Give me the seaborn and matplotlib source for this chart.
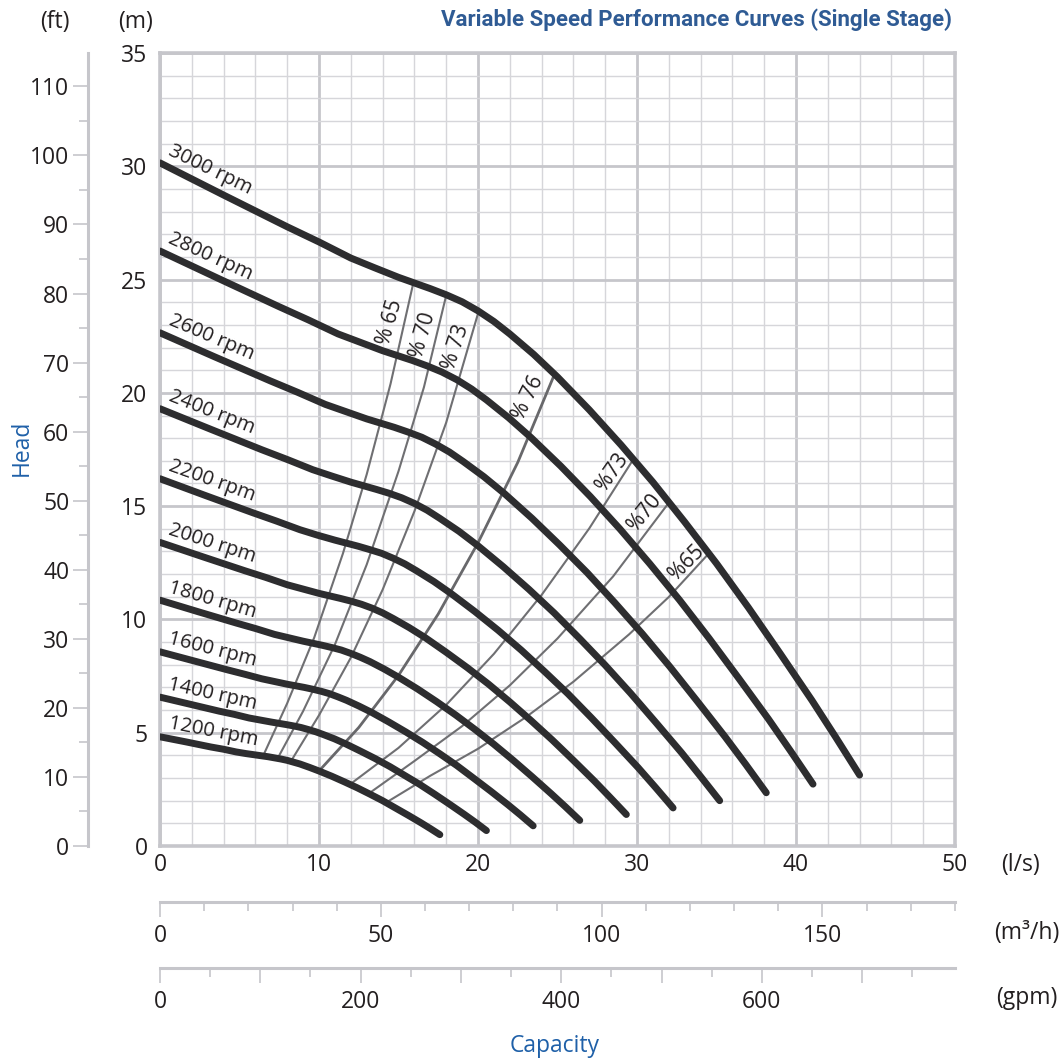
import matplotlib
matplotlib.use("Agg")
import matplotlib.pyplot as plt
import matplotlib.ticker as mticker
from matplotlib import transforms
import pandas as pd
import seaborn as sns

# ---- pump curves: flow (l/s) and head (m) per speed ----
speeds = [3000, 2800, 2600, 2400, 2200, 2000, 1800, 1600, 1400, 1200]

q_3000 = [0, 4, 8, 10, 12, 13.5, 15, 17, 18, 19, 20, 21, 22, 23.5, 25, 27, 29, 31, 33, 35, 37, 39,
          41, 42.5, 44]
h_3000 = [30.15, 28.73, 27.33, 26.66, 25.95, 25.52, 25.1, 24.6, 24.33, 24.02, 23.62, 23.15, 22.6,
          21.7, 20.7, 19.25, 17.7, 16.06, 14.3, 12.47, 10.53, 8.5, 6.43, 4.8, 3.13]
q_2800 = [0, 3.73, 7.47, 9.33, 11.2, 12.6, 14.0, 15.87, 16.8, 17.73, 18.67, 19.6, 20.53, 21.93,
          23.33, 25.2, 27.07, 28.93, 30.8, 32.67, 34.53, 36.4, 38.27, 39.67, 41.07]
h_2800 = [26.26, 25.03, 23.81, 23.22, 22.6, 22.23, 21.86, 21.43, 21.19, 20.92, 20.58, 20.17, 19.69,
          18.9, 18.03, 16.77, 15.42, 13.99, 12.46, 10.86, 9.17, 7.4, 5.6, 4.18, 2.73]
q_2600 = [0, 3.47, 6.93, 8.67, 10.4, 11.7, 13.0, 14.73, 15.6, 16.47, 17.33, 18.2, 19.07, 20.37,
          21.67, 23.4, 25.13, 26.87, 28.6, 30.33, 32.07, 33.8, 35.53, 36.83, 38.13]
h_2600 = [22.65, 21.58, 20.53, 20.02, 19.49, 19.17, 18.85, 18.48, 18.27, 18.04, 17.74, 17.39, 16.97,
          16.3, 15.55, 14.46, 13.29, 12.06, 10.74, 9.37, 7.91, 6.38, 4.83, 3.61, 2.35]
q_2400 = [0, 3.2, 6.4, 8.0, 9.6, 10.8, 12.0, 13.6, 14.4, 15.2, 16.0, 16.8, 17.6, 18.8, 20.0, 21.6,
          23.2, 24.8, 26.4, 28.0, 29.6, 31.2, 32.8, 34.0, 35.2]
h_2400 = [19.3, 18.39, 17.49, 17.06, 16.61, 16.33, 16.06, 15.74, 15.57, 15.37, 15.12, 14.82, 14.46,
          13.89, 13.25, 12.32, 11.33, 10.28, 9.15, 7.98, 6.74, 5.44, 4.12, 3.07, 2.0]
q_2200 = [0, 2.93, 5.87, 7.33, 8.8, 9.9, 11.0, 12.47, 13.2, 13.93, 14.67, 15.4, 16.13, 17.23,
          18.33, 19.8, 21.27, 22.73, 24.2, 25.67, 27.13, 28.6, 30.07, 31.17, 32.27]
h_2200 = [16.21, 15.45, 14.7, 14.34, 13.96, 13.72, 13.5, 13.23, 13.08, 12.92, 12.7, 12.45, 12.15,
          11.67, 11.13, 10.35, 9.52, 8.64, 7.69, 6.71, 5.66, 4.57, 3.46, 2.58, 1.68]
q_2000 = [0, 2.67, 5.33, 6.67, 8.0, 9.0, 10.0, 11.33, 12.0, 12.67, 13.33, 14.0, 14.67, 15.67,
          16.67, 18.0, 19.33, 20.67, 22.0, 23.33, 24.67, 26.0, 27.33, 28.33, 29.33]
h_2000 = [13.4, 12.77, 12.15, 11.85, 11.53, 11.34, 11.15, 10.93, 10.81, 10.67, 10.5, 10.29, 10.04,
          9.64, 9.2, 8.55, 7.87, 7.14, 6.36, 5.54, 4.68, 3.78, 2.86, 2.13, 1.39]
q_1800 = [0, 2.4, 4.8, 6.0, 7.2, 8.1, 9.0, 10.2, 10.8, 11.4, 12.0, 12.6, 13.2, 14.1, 15.0, 16.2,
          17.4, 18.6, 19.8, 21.0, 22.2, 23.4, 24.6, 25.5, 26.4]
h_1800 = [10.85, 10.34, 9.84, 9.6, 9.34, 9.19, 9.04, 8.86, 8.76, 8.65, 8.5, 8.33, 8.14, 7.81, 7.45,
          6.93, 6.37, 5.78, 5.15, 4.49, 3.79, 3.06, 2.31, 1.73, 1.13]
q_1600 = [0, 2.13, 4.27, 5.33, 6.4, 7.2, 8.0, 9.07, 9.6, 10.13, 10.67, 11.2, 11.73, 12.53, 13.33,
          14.4, 15.47, 16.53, 17.6, 18.67, 19.73, 20.8, 21.87, 22.67, 23.47]
h_1600 = [8.57, 8.17, 7.77, 7.58, 7.38, 7.26, 7.14, 7.0, 6.92, 6.83, 6.72, 6.58, 6.43, 6.17, 5.89,
          5.47, 5.03, 4.57, 4.07, 3.55, 2.99, 2.42, 1.83, 1.37, 0.89]
q_1400 = [0, 1.87, 3.73, 4.67, 5.6, 6.3, 7.0, 7.93, 8.4, 8.87, 9.33, 9.8, 10.27, 10.97, 11.67,
          12.6, 13.53, 14.47, 15.4, 16.33, 17.27, 18.2, 19.13, 19.83, 20.53]
h_1400 = [6.57, 6.26, 5.95, 5.81, 5.65, 5.56, 5.47, 5.36, 5.3, 5.23, 5.14, 5.04, 4.92, 4.73, 4.51,
          4.19, 3.86, 3.5, 3.11, 2.72, 2.29, 1.85, 1.4, 1.05, 0.68]
q_1200 = [0, 1.6, 3.2, 4.0, 4.8, 5.4, 6.0, 6.8, 7.2, 7.6, 8.0, 8.4, 8.8, 9.4, 10.0, 10.8, 11.6,
          12.4, 13.2, 14.0, 14.8, 15.6, 16.4, 17.0, 17.6]
h_1200 = [4.82, 4.6, 4.37, 4.27, 4.15, 4.08, 4.02, 3.94, 3.89, 3.84, 3.78, 3.7, 3.62, 3.47, 3.31,
          3.08, 2.83, 2.57, 2.29, 2.0, 1.68, 1.36, 1.03, 0.77, 0.5]

flows = [q_3000, q_2800, q_2600, q_2400, q_2200, q_2000, q_1800, q_1600, q_1400, q_1200]
heads = [h_3000, h_2800, h_2600, h_2400, h_2200, h_2000, h_1800, h_1600, h_1400, h_1200]

# ---- iso-efficiency lines ----
eff_names = ["% 65", "% 70", "% 73", "% 76", "%73", "%70", "%65"]
q_e65a = [6.5, 8.0, 9.7, 11.5, 13.0, 14.5, 15.9]
h_e65a = [4.0, 6.3, 9.2, 12.9, 16.4, 20.4, 24.75]
q_e70a = [7.4, 9.0, 11.0, 13.0, 15.0, 16.6, 18.0]
h_e70a = [3.87, 5.95, 8.89, 12.42, 16.54, 20.25, 24.3]
q_e73a = [8.2, 10.0, 12.0, 14.0, 16.0, 18.0, 20.0]
h_e73a = [3.7, 5.77, 8.31, 11.31, 14.77, 18.69, 23.5]
q_e76 = [10.0, 12.5, 15.0, 17.5, 20.0, 22.5, 24.8]
h_e76 = [3.31, 5.23, 7.53, 10.24, 13.38, 16.93, 20.8]
q_e73b = [12.1, 15.0, 18.0, 21.0, 24.0, 27.0, 29.8]
h_e73b = [2.8, 4.33, 6.23, 8.48, 11.08, 14.02, 17.1]
q_e70b = [13.2, 16.0, 19.0, 22.0, 25.0, 28.5, 32.0]
h_e70b = [2.35, 3.75, 5.29, 7.09, 9.16, 11.9, 15.15]
q_e65b = [14.3, 17.0, 20.0, 23.0, 26.0, 29.5, 32.0, 34.5]
h_e65b = [1.95, 3.1, 4.29, 5.68, 7.25, 9.34, 10.99, 12.9]

eff_flows = [q_e65a, q_e70a, q_e73a, q_e76, q_e73b, q_e70b, q_e65b]
eff_heads = [h_e65a, h_e70a, h_e73a, h_e76, h_e73b, h_e70b, h_e65b]

# tag placement (flow, head, angle) for the efficiency labels
eff_label_q = [14.45, 16.55, 18.6, 23.15, 28.45, 30.5, 33.1]
eff_label_h = [23.1, 22.55, 22.0, 19.8, 16.5, 14.7, 12.5]
eff_label_rot = [74, 74, 72, 64, 55, 51, 45]
rpm_label_rot = [-26, -24.5, -23, -21.5, -19.8, -18, -16.3, -14.5, -12.8, -11]

# ---- styling ----
sns.set_style("white")
plt.rcParams["font.family"] = ["Open Sans", "DejaVu Sans"]
TXT = "#231f20"
GRID_MAJ = "#c6c6cb"
GRID_MIN = "#d6d6da"
CURVE = "#2d2d2f"
EFF = "#6f6f72"
BLUE = "#1f60a8"
TITLE_BLUE = "#2f5b94"
FS = 16.5

W, H = 1064, 1060
fig = plt.figure(figsize=(W / 100, H / 100), dpi=100)
fig.patch.set_facecolor("white")
ax = fig.add_axes([160 / W, (H - 846) / H, 795 / W, 793 / H])

curves = pd.DataFrame(
    [(s, q, h) for s, qs, hs in zip(speeds, flows, heads) for q, h in zip(qs, hs)],
    columns=["rpm", "flow", "head"],
)
eff = pd.DataFrame(
    [(n, q, h) for n, qs, hs in zip(eff_names, eff_flows, eff_heads) for q, h in zip(qs, hs)],
    columns=["eff", "flow", "head"],
)

best = eff["eff"] == "% 76"
sns.lineplot(data=eff[~best], x="flow", y="head", units="eff", estimator=None, sort=False,
             color=EFF, lw=1.5, ax=ax, zorder=3, legend=False)
sns.lineplot(data=eff[best], x="flow", y="head", units="eff", estimator=None, sort=False,
             color="#68686b", lw=2.0, ax=ax, zorder=3, legend=False)
sns.lineplot(data=curves, x="flow", y="head", units="rpm", estimator=None, sort=False,
             color=CURVE, lw=5.0, ax=ax, zorder=4, legend=False,
             solid_capstyle="round", solid_joinstyle="round")

ax.set_xlim(0, 50)
ax.set_ylim(0, 35)
ax.set_xlabel("")
ax.set_ylabel("")
ax.xaxis.set_major_locator(mticker.MultipleLocator(10))
ax.xaxis.set_minor_locator(mticker.MultipleLocator(2))
ax.yaxis.set_major_locator(mticker.MultipleLocator(5))
ax.yaxis.set_minor_locator(mticker.MultipleLocator(1))
ax.set_axisbelow(True)
ax.grid(which="major", color=GRID_MAJ, lw=2.0)
ax.grid(which="minor", color=GRID_MIN, lw=1.0)
ax.tick_params(which="both", length=0, labelsize=FS, labelcolor=TXT)
ax.tick_params(axis="x", pad=5)
ax.tick_params(axis="y", pad=9)
for sp in ax.spines.values():
    sp.set_visible(True)
    sp.set_color(GRID_MAJ)
    sp.set_linewidth(2.6)

# speed labels above each curve start
for s, qs, hs, rot in zip(speeds, flows, heads, rpm_label_rot):
    tr = transforms.offset_copy(ax.transData, fig=fig, x=2, y=6, units="points")
    ax.text(0.3, hs[0], f"{s} rpm", transform=tr, rotation=rot, rotation_mode="anchor",
            ha="left", va="baseline", fontsize=14.5, color=TXT, zorder=5)

for name, q, h, rot in zip(eff_names, eff_label_q, eff_label_h, eff_label_rot):
    ax.text(q, h, name, rotation=rot, rotation_mode="anchor", ha="center", va="center",
            fontsize=15, color=TXT, zorder=5)

# head in feet
ft = ax.secondary_yaxis(-72 / 795, functions=(lambda m: m / 0.3048, lambda f: f * 0.3048))
ft.yaxis.set_major_locator(mticker.MultipleLocator(10))
ft.yaxis.set_minor_locator(mticker.MultipleLocator(5))
ft.spines["left"].set_color(GRID_MAJ)
ft.spines["left"].set_linewidth(2.2)
ft.tick_params(which="major", length=11, width=1.2, color=GRID_MAJ, pad=2.5,
               labelsize=FS, labelcolor=TXT)
ft.tick_params(which="minor", length=6.5, width=1.2, color=GRID_MAJ)

# capacity in m3/h
m3h = ax.secondary_xaxis(-56 / 793, functions=(lambda q: q * 3.6, lambda v: v / 3.6))
m3h.xaxis.set_major_locator(mticker.FixedLocator([0, 50, 100, 150]))
m3h.xaxis.set_minor_locator(mticker.MultipleLocator(10))
m3h.spines["bottom"].set_color(GRID_MAJ)
m3h.spines["bottom"].set_linewidth(2.2)
m3h.tick_params(which="major", length=11, width=1.2, color=GRID_MAJ, pad=5,
                labelsize=FS, labelcolor=TXT)
m3h.tick_params(which="minor", length=6.5, width=1.2, color=GRID_MAJ)

# capacity in US gpm
gpm = ax.secondary_xaxis(-122 / 793, functions=(lambda q: q * 15.850, lambda g: g / 15.850))
gpm.xaxis.set_major_locator(mticker.MultipleLocator(100))
gpm.xaxis.set_minor_locator(mticker.MultipleLocator(50))
gpm.xaxis.set_major_formatter(
    mticker.FuncFormatter(lambda v, p: f"{v:.0f}" if round(v) % 200 == 0 else ""))
gpm.spines["bottom"].set_color(GRID_MAJ)
gpm.spines["bottom"].set_linewidth(2.2)
gpm.tick_params(which="major", length=11, width=1.2, color=GRID_MAJ, pad=4.5,
                labelsize=FS, labelcolor=TXT)
gpm.tick_params(which="minor", length=6.5, width=1.2, color=GRID_MAJ)


def ftext(px, py, s, **kw):
    fig.text(px / W, 1 - py / H, s, ha="center", va="center", **kw)


ftext(55, 22, "(ft)", fontsize=FS, color=TXT)
ftext(136, 22, "(m)", fontsize=FS, color=TXT)
ftext(1020, 865, "(l/s)", fontsize=FS, color=TXT)
ftext(1027, 933, "(m³/h)", fontsize=FS, color=TXT)
ftext(1027, 998, "(gpm)", fontsize=FS, color=TXT)
ftext(22, 448, "Head", fontsize=FS, color=BLUE, rotation=90)
ftext(555, 1046, "Capacity", fontsize=FS, color=BLUE)
fig.text(952 / W, 1 - 20 / H, "Variable Speed Performance Curves (Single Stage)",
         ha="right", va="center", fontsize=16, fontweight="bold", color=TITLE_BLUE,
         family=["Roboto", "DejaVu Sans"])

fig.savefig("out.png", dpi=100, facecolor="white")
